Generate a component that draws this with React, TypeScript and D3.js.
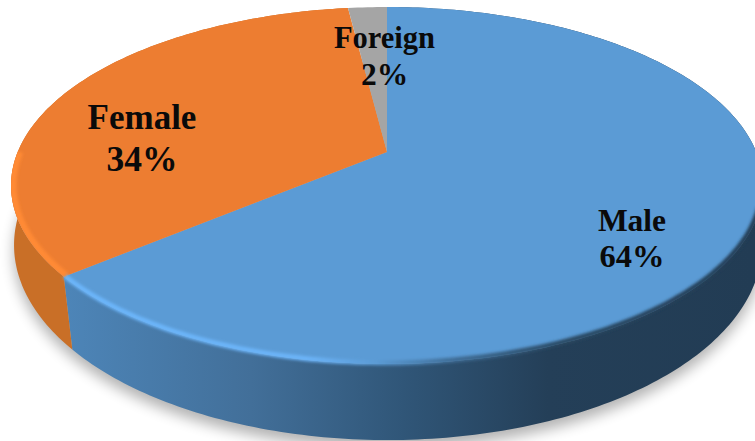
import * as d3 from "d3";

const LABELS = ["Male", "Female", "Foreign"];
const VALUES = [64, 34, 2];
const COLORS = ["#5b9bd5", "#ed7d31", "#a5a5a5"];
const NAME_SIZES = [31.5, 35, 30.5];
const PCT_SIZES = [32.5, 35.5, 31.5];
const LINE_GAPS = [36, 42, 37];
const LABEL_POS = [
  [632, 231],
  [142, 129],
  [384.5, 48],
];

const WIDTH = 755;
const HEIGHT = 441;

// perspective discs: the apex is not the centre of the drawn ellipse
const TOP_DISC = { cx: 387, apex: 152, tilt: 172.2, persp: 0.1877, radius: 369.3 };
const BASE_DISC = { cx: 388, apex: 215, tilt: 190.4, persp: 0.154, radius: 369.5 };

type Disc = typeof TOP_DISC;

function rim(disc: Disc, angle: number, inset = 0, drop = 0): [number, number] {
  const x = Math.sin(angle);
  const y = -Math.cos(angle);
  const s = 1 / (1 - disc.persp * y);
  return [
    disc.cx + (disc.radius - inset) * x * s,
    disc.apex + (disc.tilt - inset) * y * s + drop,
  ];
}

function samples(a0: number, a1: number) {
  const n = Math.max(2, Math.ceil((a1 - a0) * 60));
  return d3.range(n + 1).map((i) => a0 + ((a1 - a0) * i) / n);
}

export default function App() {
  const pie = d3.pie<number>().sort(null)(VALUES);
  const line = d3.line();
  const full = samples(0, Math.PI * 2);

  const shadow = line(full.map((a) => rim(BASE_DISC, a, 0, 8)))! + "Z";
  const topOutline = line(full.map((a) => rim(TOP_DISC, a)))! + "Z";

  return (
    <svg
      width={WIDTH}
      height={HEIGHT}
      style={{ position: "absolute", left: 0, top: 0, background: "#fff" }}
    >
      <defs>
        <filter id="shadowBlur" x="-10%" y="-10%" width="120%" height="120%">
          <feGaussianBlur stdDeviation="7" />
        </filter>
        <filter id="bevelBlur" x="-10%" y="-10%" width="120%" height="120%">
          <feGaussianBlur stdDeviation="1.5" />
        </filter>
        <clipPath id="topClip">
          <path d={topOutline} />
        </clipPath>
        <linearGradient id="sideBlue" gradientUnits="userSpaceOnUse" x1={65} x2={755} y1={0} y2={0}>
          <stop offset="0" stopColor="#4d85b8" />
          <stop offset="0.27" stopColor="#426f99" />
          <stop offset="0.49" stopColor="#305678" />
          <stop offset="0.7" stopColor="#243f58" />
          <stop offset="1" stopColor="#223c54" />
        </linearGradient>
        <linearGradient id="bevelBlue" gradientUnits="userSpaceOnUse" x1={65} x2={755} y1={0} y2={0}>
          <stop offset="0" stopColor="#6cb6fb" />
          <stop offset="0.35" stopColor="#6cb4f8" />
          <stop offset="0.45" stopColor="#5b9bd5" />
          <stop offset="0.56" stopColor="#3f6d96" />
          <stop offset="0.72" stopColor="#294862" />
          <stop offset="1" stopColor="#223c54" />
        </linearGradient>
      </defs>

      <path d={shadow} fill="#000" opacity={0.3} filter="url(#shadowBlur)" />

      {/* side wall, only Male and Female can be seen */}
      {pie.slice(0, 2).map((d, i) => {
        const pts = samples(d.startAngle, d.endAngle);
        const top = pts.map((a) => rim(TOP_DISC, a));
        const bottom = pts.map((a) => rim(BASE_DISC, a)).reverse();
        return (
          <path
            key={LABELS[i]}
            d={line([...top, ...bottom])! + "Z"}
            fill={i === 0 ? "url(#sideBlue)" : "#c96f27"}
          />
        );
      })}

      {/* top face */}
      {pie.map((d, i) => {
        const pts = samples(d.startAngle, d.endAngle).map((a) => rim(TOP_DISC, a));
        return (
          <path
            key={LABELS[i]}
            d={line([[TOP_DISC.cx, TOP_DISC.apex], ...pts])! + "Z"}
            fill={COLORS[i]}
          />
        );
      })}

      {/* bevel along the front rim */}
      <path
        d={line(samples(pie[0].startAngle + Math.PI * 0.6, pie[0].endAngle).map((a) => rim(TOP_DISC, a, 1)))!}
        fill="none"
        stroke="url(#bevelBlue)"
        strokeWidth={5}
        filter="url(#bevelBlur)"
      />
      <g clipPath="url(#topClip)">
        <path
          d={line(samples(pie[1].startAngle, Math.PI * 1.5).map((a) => rim(TOP_DISC, a, 2)))!}
          fill="none"
          stroke="#ff8a35"
          strokeWidth={7}
          filter="url(#bevelBlur)"
        />
      </g>

      {pie.map((d, i) => (
        <text
          key={LABELS[i]}
          textAnchor="middle"
          fontFamily="'Liberation Serif', serif"
          fontWeight="bold"
          fill="#0a0a0a"
        >
          <tspan x={LABEL_POS[i][0]} y={LABEL_POS[i][1]} fontSize={NAME_SIZES[i]}>
            {LABELS[i]}
          </tspan>
          <tspan x={LABEL_POS[i][0]} y={LABEL_POS[i][1] + LINE_GAPS[i]} fontSize={PCT_SIZES[i]}>
            {`${d.data}%`}
          </tspan>
        </text>
      ))}
    </svg>
  );
}
